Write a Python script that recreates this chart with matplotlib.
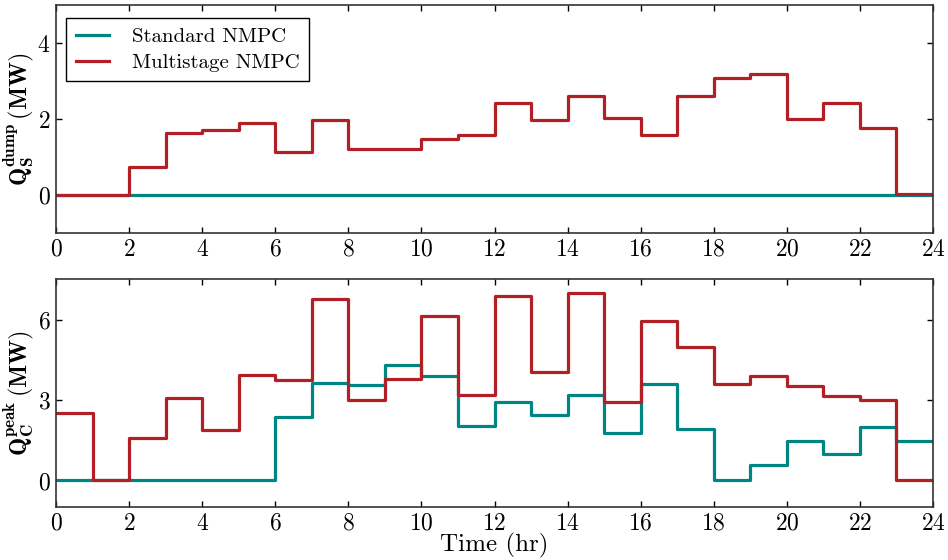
import numpy as np
import matplotlib
matplotlib.use('Agg')
import matplotlib.pyplot as plt

plt.rcParams['font.family'] = 'cmr10'
plt.rcParams['mathtext.fontset'] = 'cm'
plt.rcParams['axes.formatter.use_mathtext'] = True

hours = np.arange(0, 25)

# top panel: dump heat (MW), one value per hour
dump_standard = [0.0] * 24
dump_multistage = [0, 0, 0.75, 1.63, 1.71, 1.89, 1.15, 1.98, 1.21, 1.23, 1.47, 1.60,
                   2.44, 1.97, 2.62, 2.03, 1.60, 2.62, 3.09, 3.19, 2.00, 2.44, 1.76, 0.04]

# bottom panel: peak heat (MW)
peak_standard = [0, 0, 0, 0, 0, 0, 2.35, 3.63, 3.57, 4.30, 3.90, 2.04,
                 2.94, 2.46, 3.18, 1.76, 3.58, 1.91, 0, 0.57, 1.48, 0.99, 2.00, 1.49]
peak_multistage = [2.52, 0, 1.60, 3.08, 1.90, 3.94, 3.75, 6.77, 3.01, 3.79, 6.14, 3.17,
                   6.87, 4.05, 6.99, 2.94, 5.93, 4.98, 3.59, 3.91, 3.54, 3.16, 2.99, 0]

teal = '#008585'
red = '#b22025'

fig = plt.figure(figsize=(9.48, 5.6), dpi=100)
ax1 = fig.add_axes([0.0591, 0.5834, 0.9251, 0.4071])
ax2 = fig.add_axes([0.0591, 0.0941, 0.9251, 0.4071])

def stepline(ax, vals, color, label):
    v = np.append(vals, vals[-1])
    ax.step(hours, v, where='post', color=color, lw=2.3, label=label)

stepline(ax1, dump_standard, teal, 'Standard NMPC')
stepline(ax1, dump_multistage, red, 'Multistage NMPC')
stepline(ax2, peak_standard, teal, 'Standard NMPC')
stepline(ax2, peak_multistage, red, 'Multistage NMPC')

ax1.set_ylim(-1, 5)
ax1.set_yticks([0, 2, 4])
ax2.set_ylim(-1, 7.5)
ax2.set_yticks([0, 3, 6])

for ax in (ax1, ax2):
    ax.set_xlim(0, 24)
    ax.set_xticks(range(0, 25, 2))
    ax.tick_params(direction='in', top=True, right=True, length=4, width=1,
                   labelsize=17, pad=4)
    for s in ax.spines.values():
        s.set_color('#333333')
        s.set_linewidth(1.2)

ax1.set_ylabel(r'$\mathbf{Q}_\mathbf{S}^\mathbf{dump}\,(\mathbf{MW})$', fontsize=17.5)
ax2.set_ylabel(r'$\mathbf{Q}_\mathbf{C}^\mathbf{peak}\,(\mathbf{MW})$', fontsize=17.5)
ax1.yaxis.set_label_coords(-0.023, 0.5)
ax2.yaxis.set_label_coords(-0.023, 0.5)
ax2.set_xlabel('Time (hr)', fontsize=18)
ax2.xaxis.set_label_coords(0.5, -0.112)

leg = ax1.legend(loc='upper left', fontsize=15, fancybox=False, framealpha=1,
                 edgecolor='black', handlelength=1.6, handletextpad=1.1,
                 borderpad=0.45, labelspacing=0.35, bbox_to_anchor=(0.0, 0.99))
leg.get_frame().set_linewidth(1.0)

fig.savefig('out.png', dpi=100)
